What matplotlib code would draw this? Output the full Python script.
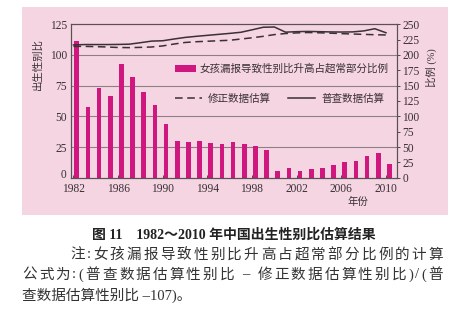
import numpy as np
import matplotlib
matplotlib.use("Agg")
import matplotlib.pyplot as plt
from matplotlib.patches import Rectangle

plt.rcParams['font.family'] = ['Liberation Serif', 'Noto Sans CJK SC']

# 出生性别比估算 1982-2010
years = np.arange(1982, 2011)
census_ratio = [108.2, 108.5, 108.5, 108.5, 108.6, 108.8, 110.0, 111.3, 111.6, 113.0,
                114.3, 115.2, 116.0, 116.8, 117.6, 118.5, 120.5, 122.6, 122.8, 118.6,
                119.0, 119.2, 119.0, 118.8, 118.7, 118.8, 119.6, 121.4, 118.1]
corrected_ratio = [107.0, 107.0, 106.8, 106.5, 106.1, 106.0, 106.2, 106.5, 107.4, 108.9,
                   110.2, 110.8, 111.2, 111.6, 112.0, 113.0, 114.0, 115.2, 116.6, 117.5,
                   118.0, 118.3, 118.1, 117.8, 117.4, 117.1, 116.8, 116.5, 116.3]
# 女孩漏报导致性别比升高占超常部分比例(%)
share_pct = [223, 116, 146, 133, 186, 164, 139, 119, 87, 60,
             58, 59, 57, 55, 58, 55, 52, 45, 11, 15,
             11, 14, 15, 20, 25, 28, 35, 41, 22]

W, H = 474, 328
pink = '#f5d5e2'
bar_color = '#d0177f'
ink = '#3a3035'

fig = plt.figure(figsize=(W / 100, H / 100), dpi=100)
fig.patch.set_facecolor('white')
fig.patches.append(Rectangle((22 / W, 1 - 215 / H), 426 / W, 208 / H,
                             transform=fig.transFigure, facecolor=pink,
                             edgecolor='none', zorder=-10))

ax = fig.add_axes([71 / W, 1 - 177.7 / H, 325.7 / W, 153.4 / H])
ax2 = ax.twinx()
ax.set_zorder(ax2.get_zorder() + 1)
ax.patch.set_visible(False)
ax2.patch.set_visible(False)

# bars on the right (%) axis
for v in [50, 100, 150, 200]:
    ax2.axhline(v, color='#8c7f86', lw=0.8, zorder=0)
bars = ax2.bar(years + 0.3, share_pct, width=0.42, color=bar_color, zorder=2)

# sex-ratio lines on the left axis
l_corr, = ax.plot(years, corrected_ratio, color=ink, lw=1.1, dashes=(5, 3))
l_census, = ax.plot(years, census_ratio, color=ink, lw=1.1)

ax.set_xlim(1981.78, 2010.96)
ax.set_ylim(0, 125)
ax2.set_ylim(0, 250)
ax.set_xticks(range(1982, 2011, 4))
ax.set_yticks(range(0, 126, 25))
ax2.set_yticks(range(0, 251, 25))

ax.tick_params(axis='x', direction='in', length=2, width=0.6, pad=3.5,
               labelsize=8.3, colors=ink)
ax.tick_params(axis='y', length=0, pad=3, labelsize=8.3, colors=ink)
ax2.tick_params(axis='y', direction='out', length=2.5, width=0.6, pad=1.5,
                labelsize=8.3, colors=ink)
# lift the bottom "0" so it clears the first year label
ax.get_yticklabels()[0].set_va('baseline')
for a in (ax, ax2):
    for s in a.spines.values():
        s.set_color('#5a5055')
        s.set_linewidth(0.8)

leg1 = ax.legend([bars], ['女孩漏报导致性别比升高占超常部分比例'],
                 loc='center left', bbox_to_anchor=(0.319, 0.709),
                 frameon=False, prop={'size': 7.6}, handlelength=2.0,
                 handleheight=0.55, handletextpad=0.3, borderpad=0,
                 borderaxespad=0)
for t in leg1.get_texts():
    t.set_color(ink)
ax.add_artist(leg1)
leg2 = ax.legend([l_corr, l_census], ['修正数据估算', '普查数据估算'], ncol=2,
                 loc='center left', bbox_to_anchor=(0.319, 0.513),
                 frameon=False, prop={'size': 7.6}, handlelength=2.6,
                 handletextpad=0.55, columnspacing=1.6, borderpad=0,
                 borderaxespad=0)
for t in leg2.get_texts():
    t.set_color(ink)

fig.text(38 / W, 1 - 64 / H, '出生性别比', rotation=90, ha='center', va='center',
         fontsize=7.5, color=ink)
fig.text(431 / W, 1 - 68 / H, '比例 (%)', rotation=90, ha='center', va='center',
         fontsize=7.5, color=ink)
fig.text(358 / W, 1 - 202 / H, '年份', ha='center', va='center',
         fontsize=7.5, color=ink)

fig.text(234 / W, 1 - 235 / H, '图 11    1982～2010 年中国出生性别比估算结果',
         ha='center', va='center', fontsize=10, fontweight='bold', color='#222222')


def spread_line(text, x0, x1, y, **kw):
    """Lay the characters of one line out evenly between x0 and x1 (pixels)."""
    r = fig.canvas.get_renderer()
    pieces = [fig.text(0, 1 - y / H, ch, va='center', **kw) for ch in text]
    widths = [p.get_window_extent(r).width for p in pieces]
    gap = (x1 - x0 - sum(widths)) / (len(text) - 1)
    x = x0
    for p, w in zip(pieces, widths):
        p.set_x(x / W)
        x += w + gap


note_kw = dict(fontsize=10.5, color='#333333')
spread_line('注:女孩漏报导致性别比升高占超常部分比例的计算', 70, 443, 255, **note_kw)
spread_line('公式为:(普查数据估算性别比 – 修正数据估算性别比)/(普', 22, 443, 275, **note_kw)
fig.text(22 / W, 1 - 295 / H, '查数据估算性别比 –107)。', va='center', **note_kw)

fig.savefig('out.png', dpi=100, facecolor='white')
